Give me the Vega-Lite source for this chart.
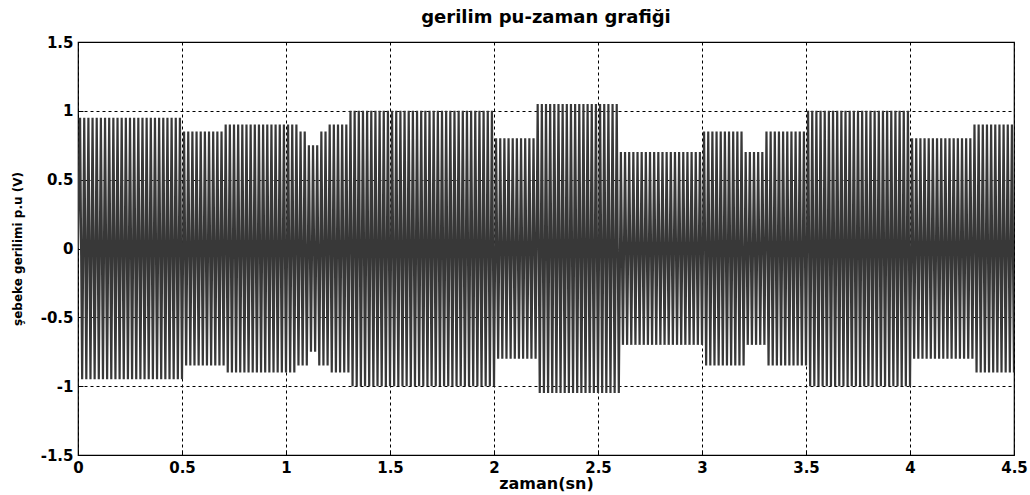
{
"$schema":"https://vega.github.io/schema/vega-lite/v6.json",
"autosize":{"type":"none"},
"padding":{"left":78,"top":42,"right":16,"bottom":40},
"width":936,"height":413,
"background":"white",
"title":{"text":"gerilim pu-zaman grafiği","font":"DejaVu Sans","fontSize":18,"fontWeight":"bold","color":"black","offset":8},
"config":{"view":{"stroke":"black","strokeWidth":1.2},
"axis":{"labelFont":"DejaVu Sans","labelFontSize":15,"labelFontWeight":"bold","labelColor":"black","titleFont":"DejaVu Sans","titleFontWeight":"bold","titleColor":"black","domain":false,"grid":true,"gridColor":"black","gridDash":[3,3],"gridOpacity":1,"gridWidth":1,"tickColor":"black","tickSize":-5,"tickWidth":1}},
"data":{"values":[
{"t":0,"v":0},
{"t":0.01,"v":0.95},{"t":0.02,"v":-0.95},{"t":0.03,"v":0.95},{"t":0.04,"v":-0.95},{"t":0.05,"v":0.95},{"t":0.06,"v":-0.95},{"t":0.07,"v":0.95},{"t":0.08,"v":-0.95},{"t":0.09,"v":0.95},{"t":0.10,"v":-0.95},
{"t":0.11,"v":0.95},{"t":0.12,"v":-0.95},{"t":0.13,"v":0.95},{"t":0.14,"v":-0.95},{"t":0.15,"v":0.95},{"t":0.16,"v":-0.95},{"t":0.17,"v":0.95},{"t":0.18,"v":-0.95},{"t":0.19,"v":0.95},{"t":0.20,"v":-0.95},
{"t":0.21,"v":0.95},{"t":0.22,"v":-0.95},{"t":0.23,"v":0.95},{"t":0.24,"v":-0.95},{"t":0.25,"v":0.95},{"t":0.26,"v":-0.95},{"t":0.27,"v":0.95},{"t":0.28,"v":-0.95},{"t":0.29,"v":0.95},{"t":0.30,"v":-0.95},
{"t":0.31,"v":0.95},{"t":0.32,"v":-0.95},{"t":0.33,"v":0.95},{"t":0.34,"v":-0.95},{"t":0.35,"v":0.95},{"t":0.36,"v":-0.95},{"t":0.37,"v":0.95},{"t":0.38,"v":-0.95},{"t":0.39,"v":0.95},{"t":0.40,"v":-0.95},
{"t":0.41,"v":0.95},{"t":0.42,"v":-0.95},{"t":0.43,"v":0.95},{"t":0.44,"v":-0.95},{"t":0.45,"v":0.95},{"t":0.46,"v":-0.95},{"t":0.47,"v":0.95},{"t":0.48,"v":-0.95},{"t":0.49,"v":0.95},{"t":0.50,"v":-0.95},
{"t":0.51,"v":0.85},{"t":0.52,"v":-0.85},{"t":0.53,"v":0.85},{"t":0.54,"v":-0.85},{"t":0.55,"v":0.85},{"t":0.56,"v":-0.85},{"t":0.57,"v":0.85},{"t":0.58,"v":-0.85},{"t":0.59,"v":0.85},{"t":0.60,"v":-0.85},
{"t":0.61,"v":0.85},{"t":0.62,"v":-0.85},{"t":0.63,"v":0.85},{"t":0.64,"v":-0.85},{"t":0.65,"v":0.85},{"t":0.66,"v":-0.85},{"t":0.67,"v":0.85},{"t":0.68,"v":-0.85},{"t":0.69,"v":0.85},{"t":0.70,"v":-0.85},
{"t":0.71,"v":0.9},{"t":0.72,"v":-0.9},{"t":0.73,"v":0.9},{"t":0.74,"v":-0.9},{"t":0.75,"v":0.9},{"t":0.76,"v":-0.9},{"t":0.77,"v":0.9},{"t":0.78,"v":-0.9},{"t":0.79,"v":0.9},{"t":0.80,"v":-0.9},
{"t":0.81,"v":0.9},{"t":0.82,"v":-0.9},{"t":0.83,"v":0.9},{"t":0.84,"v":-0.9},{"t":0.85,"v":0.9},{"t":0.86,"v":-0.9},{"t":0.87,"v":0.9},{"t":0.88,"v":-0.9},{"t":0.89,"v":0.9},{"t":0.90,"v":-0.9},
{"t":0.91,"v":0.9},{"t":0.92,"v":-0.9},{"t":0.93,"v":0.9},{"t":0.94,"v":-0.9},{"t":0.95,"v":0.9},{"t":0.96,"v":-0.9},{"t":0.97,"v":0.9},{"t":0.98,"v":-0.9},{"t":0.99,"v":0.9},{"t":1.00,"v":-0.9},
{"t":1.01,"v":0.9},{"t":1.02,"v":-0.9},{"t":1.03,"v":0.9},{"t":1.04,"v":-0.9},{"t":1.05,"v":0.9},{"t":1.06,"v":-0.85},{"t":1.07,"v":0.85},{"t":1.08,"v":-0.85},{"t":1.09,"v":0.85},{"t":1.10,"v":-0.85},
{"t":1.11,"v":0.75},{"t":1.12,"v":-0.75},{"t":1.13,"v":0.75},{"t":1.14,"v":-0.75},{"t":1.15,"v":0.75},{"t":1.16,"v":-0.85},{"t":1.17,"v":0.85},{"t":1.18,"v":-0.85},{"t":1.19,"v":0.85},{"t":1.20,"v":-0.85},
{"t":1.21,"v":0.9},{"t":1.22,"v":-0.9},{"t":1.23,"v":0.9},{"t":1.24,"v":-0.9},{"t":1.25,"v":0.9},{"t":1.26,"v":-0.9},{"t":1.27,"v":0.9},{"t":1.28,"v":-0.9},{"t":1.29,"v":0.9},{"t":1.30,"v":-0.9},
{"t":1.31,"v":1},{"t":1.32,"v":-1},{"t":1.33,"v":1},{"t":1.34,"v":-1},{"t":1.35,"v":1},{"t":1.36,"v":-1},{"t":1.37,"v":1},{"t":1.38,"v":-1},{"t":1.39,"v":1},{"t":1.40,"v":-1},
{"t":1.41,"v":1},{"t":1.42,"v":-1},{"t":1.43,"v":1},{"t":1.44,"v":-1},{"t":1.45,"v":1},{"t":1.46,"v":-1},{"t":1.47,"v":1},{"t":1.48,"v":-1},{"t":1.49,"v":1},{"t":1.50,"v":-1},
{"t":1.51,"v":1},{"t":1.52,"v":-1},{"t":1.53,"v":1},{"t":1.54,"v":-1},{"t":1.55,"v":1},{"t":1.56,"v":-1},{"t":1.57,"v":1},{"t":1.58,"v":-1},{"t":1.59,"v":1},{"t":1.60,"v":-1},
{"t":1.61,"v":1},{"t":1.62,"v":-1},{"t":1.63,"v":1},{"t":1.64,"v":-1},{"t":1.65,"v":1},{"t":1.66,"v":-1},{"t":1.67,"v":1},{"t":1.68,"v":-1},{"t":1.69,"v":1},{"t":1.70,"v":-1},
{"t":1.71,"v":1},{"t":1.72,"v":-1},{"t":1.73,"v":1},{"t":1.74,"v":-1},{"t":1.75,"v":1},{"t":1.76,"v":-1},{"t":1.77,"v":1},{"t":1.78,"v":-1},{"t":1.79,"v":1},{"t":1.80,"v":-1},
{"t":1.81,"v":1},{"t":1.82,"v":-1},{"t":1.83,"v":1},{"t":1.84,"v":-1},{"t":1.85,"v":1},{"t":1.86,"v":-1},{"t":1.87,"v":1},{"t":1.88,"v":-1},{"t":1.89,"v":1},{"t":1.90,"v":-1},
{"t":1.91,"v":1},{"t":1.92,"v":-1},{"t":1.93,"v":1},{"t":1.94,"v":-1},{"t":1.95,"v":1},{"t":1.96,"v":-1},{"t":1.97,"v":1},{"t":1.98,"v":-1},{"t":1.99,"v":1},{"t":2.00,"v":-1},
{"t":2.01,"v":0.8},{"t":2.02,"v":-0.8},{"t":2.03,"v":0.8},{"t":2.04,"v":-0.8},{"t":2.05,"v":0.8},{"t":2.06,"v":-0.8},{"t":2.07,"v":0.8},{"t":2.08,"v":-0.8},{"t":2.09,"v":0.8},{"t":2.10,"v":-0.8},
{"t":2.11,"v":0.8},{"t":2.12,"v":-0.8},{"t":2.13,"v":0.8},{"t":2.14,"v":-0.8},{"t":2.15,"v":0.8},{"t":2.16,"v":-0.8},{"t":2.17,"v":0.8},{"t":2.18,"v":-0.8},{"t":2.19,"v":0.8},{"t":2.20,"v":-0.8},
{"t":2.21,"v":1.05},{"t":2.22,"v":-1.05},{"t":2.23,"v":1.05},{"t":2.24,"v":-1.05},{"t":2.25,"v":1.05},{"t":2.26,"v":-1.05},{"t":2.27,"v":1.05},{"t":2.28,"v":-1.05},{"t":2.29,"v":1.05},{"t":2.30,"v":-1.05},
{"t":2.31,"v":1.05},{"t":2.32,"v":-1.05},{"t":2.33,"v":1.05},{"t":2.34,"v":-1.05},{"t":2.35,"v":1.05},{"t":2.36,"v":-1.05},{"t":2.37,"v":1.05},{"t":2.38,"v":-1.05},{"t":2.39,"v":1.05},{"t":2.40,"v":-1.05},
{"t":2.41,"v":1.05},{"t":2.42,"v":-1.05},{"t":2.43,"v":1.05},{"t":2.44,"v":-1.05},{"t":2.45,"v":1.05},{"t":2.46,"v":-1.05},{"t":2.47,"v":1.05},{"t":2.48,"v":-1.05},{"t":2.49,"v":1.05},{"t":2.50,"v":-1.05},
{"t":2.51,"v":1.05},{"t":2.52,"v":-1.05},{"t":2.53,"v":1.05},{"t":2.54,"v":-1.05},{"t":2.55,"v":1.05},{"t":2.56,"v":-1.05},{"t":2.57,"v":1.05},{"t":2.58,"v":-1.05},{"t":2.59,"v":1.05},{"t":2.60,"v":-1.05},
{"t":2.61,"v":0.7},{"t":2.62,"v":-0.7},{"t":2.63,"v":0.7},{"t":2.64,"v":-0.7},{"t":2.65,"v":0.7},{"t":2.66,"v":-0.7},{"t":2.67,"v":0.7},{"t":2.68,"v":-0.7},{"t":2.69,"v":0.7},{"t":2.70,"v":-0.7},
{"t":2.71,"v":0.7},{"t":2.72,"v":-0.7},{"t":2.73,"v":0.7},{"t":2.74,"v":-0.7},{"t":2.75,"v":0.7},{"t":2.76,"v":-0.7},{"t":2.77,"v":0.7},{"t":2.78,"v":-0.7},{"t":2.79,"v":0.7},{"t":2.80,"v":-0.7},
{"t":2.81,"v":0.7},{"t":2.82,"v":-0.7},{"t":2.83,"v":0.7},{"t":2.84,"v":-0.7},{"t":2.85,"v":0.7},{"t":2.86,"v":-0.7},{"t":2.87,"v":0.7},{"t":2.88,"v":-0.7},{"t":2.89,"v":0.7},{"t":2.90,"v":-0.7},
{"t":2.91,"v":0.7},{"t":2.92,"v":-0.7},{"t":2.93,"v":0.7},{"t":2.94,"v":-0.7},{"t":2.95,"v":0.7},{"t":2.96,"v":-0.7},{"t":2.97,"v":0.7},{"t":2.98,"v":-0.7},{"t":2.99,"v":0.7},{"t":3.00,"v":-0.7},
{"t":3.01,"v":0.85},{"t":3.02,"v":-0.85},{"t":3.03,"v":0.85},{"t":3.04,"v":-0.85},{"t":3.05,"v":0.85},{"t":3.06,"v":-0.85},{"t":3.07,"v":0.85},{"t":3.08,"v":-0.85},{"t":3.09,"v":0.85},{"t":3.10,"v":-0.85},
{"t":3.11,"v":0.85},{"t":3.12,"v":-0.85},{"t":3.13,"v":0.85},{"t":3.14,"v":-0.85},{"t":3.15,"v":0.85},{"t":3.16,"v":-0.85},{"t":3.17,"v":0.85},{"t":3.18,"v":-0.85},{"t":3.19,"v":0.85},{"t":3.20,"v":-0.85},
{"t":3.21,"v":0.7},{"t":3.22,"v":-0.7},{"t":3.23,"v":0.7},{"t":3.24,"v":-0.7},{"t":3.25,"v":0.7},{"t":3.26,"v":-0.7},{"t":3.27,"v":0.7},{"t":3.28,"v":-0.7},{"t":3.29,"v":0.7},{"t":3.30,"v":-0.7},
{"t":3.31,"v":0.85},{"t":3.32,"v":-0.85},{"t":3.33,"v":0.85},{"t":3.34,"v":-0.85},{"t":3.35,"v":0.85},{"t":3.36,"v":-0.85},{"t":3.37,"v":0.85},{"t":3.38,"v":-0.85},{"t":3.39,"v":0.85},{"t":3.40,"v":-0.85},
{"t":3.41,"v":0.85},{"t":3.42,"v":-0.85},{"t":3.43,"v":0.85},{"t":3.44,"v":-0.85},{"t":3.45,"v":0.85},{"t":3.46,"v":-0.85},{"t":3.47,"v":0.85},{"t":3.48,"v":-0.85},{"t":3.49,"v":0.85},{"t":3.50,"v":-0.85},
{"t":3.51,"v":1},{"t":3.52,"v":-1},{"t":3.53,"v":1},{"t":3.54,"v":-1},{"t":3.55,"v":1},{"t":3.56,"v":-1},{"t":3.57,"v":1},{"t":3.58,"v":-1},{"t":3.59,"v":1},{"t":3.60,"v":-1},
{"t":3.61,"v":1},{"t":3.62,"v":-1},{"t":3.63,"v":1},{"t":3.64,"v":-1},{"t":3.65,"v":1},{"t":3.66,"v":-1},{"t":3.67,"v":1},{"t":3.68,"v":-1},{"t":3.69,"v":1},{"t":3.70,"v":-1},
{"t":3.71,"v":1},{"t":3.72,"v":-1},{"t":3.73,"v":1},{"t":3.74,"v":-1},{"t":3.75,"v":1},{"t":3.76,"v":-1},{"t":3.77,"v":1},{"t":3.78,"v":-1},{"t":3.79,"v":1},{"t":3.80,"v":-1},
{"t":3.81,"v":1},{"t":3.82,"v":-1},{"t":3.83,"v":1},{"t":3.84,"v":-1},{"t":3.85,"v":1},{"t":3.86,"v":-1},{"t":3.87,"v":1},{"t":3.88,"v":-1},{"t":3.89,"v":1},{"t":3.90,"v":-1},
{"t":3.91,"v":1},{"t":3.92,"v":-1},{"t":3.93,"v":1},{"t":3.94,"v":-1},{"t":3.95,"v":1},{"t":3.96,"v":-1},{"t":3.97,"v":1},{"t":3.98,"v":-1},{"t":3.99,"v":1},{"t":4.00,"v":-1},
{"t":4.01,"v":0.8},{"t":4.02,"v":-0.8},{"t":4.03,"v":0.8},{"t":4.04,"v":-0.8},{"t":4.05,"v":0.8},{"t":4.06,"v":-0.8},{"t":4.07,"v":0.8},{"t":4.08,"v":-0.8},{"t":4.09,"v":0.8},{"t":4.10,"v":-0.8},
{"t":4.11,"v":0.8},{"t":4.12,"v":-0.8},{"t":4.13,"v":0.8},{"t":4.14,"v":-0.8},{"t":4.15,"v":0.8},{"t":4.16,"v":-0.8},{"t":4.17,"v":0.8},{"t":4.18,"v":-0.8},{"t":4.19,"v":0.8},{"t":4.20,"v":-0.8},
{"t":4.21,"v":0.8},{"t":4.22,"v":-0.8},{"t":4.23,"v":0.8},{"t":4.24,"v":-0.8},{"t":4.25,"v":0.8},{"t":4.26,"v":-0.8},{"t":4.27,"v":0.8},{"t":4.28,"v":-0.8},{"t":4.29,"v":0.8},{"t":4.30,"v":-0.8},
{"t":4.31,"v":0.9},{"t":4.32,"v":-0.9},{"t":4.33,"v":0.9},{"t":4.34,"v":-0.9},{"t":4.35,"v":0.9},{"t":4.36,"v":-0.9},{"t":4.37,"v":0.9},{"t":4.38,"v":-0.9},{"t":4.39,"v":0.9},{"t":4.40,"v":-0.9},
{"t":4.41,"v":0.9},{"t":4.42,"v":-0.9},{"t":4.43,"v":0.9},{"t":4.44,"v":-0.9},{"t":4.45,"v":0.9},{"t":4.46,"v":-0.9},{"t":4.47,"v":0.9},{"t":4.48,"v":-0.9},{"t":4.49,"v":0.9},{"t":4.50,"v":-0.9}
]},
"mark":{"type":"line","color":"#383838","strokeWidth":2.2,"clip":true},
"encoding":{
"x":{"field":"t","type":"quantitative","scale":{"domain":[0,4.5],"nice":false,"zero":false},
"axis":{"values":[0,0.5,1,1.5,2,2.5,3,3.5,4,4.5],"labelExpr":"''+datum.value","title":"zaman(sn)","titleFontSize":16,"titlePadding":0,"labelPadding":10,"labelFlush":false}},
"y":{"field":"v","type":"quantitative","scale":{"domain":[-1.5,1.5],"nice":false,"zero":false},
"axis":{"values":[-1.5,-1,-0.5,0,0.5,1,1.5],"labelExpr":"''+datum.value","title":"şebeke gerilimi p.u (V)","titleFontSize":12,"titlePadding":16,"labelPadding":10}}
}
}
